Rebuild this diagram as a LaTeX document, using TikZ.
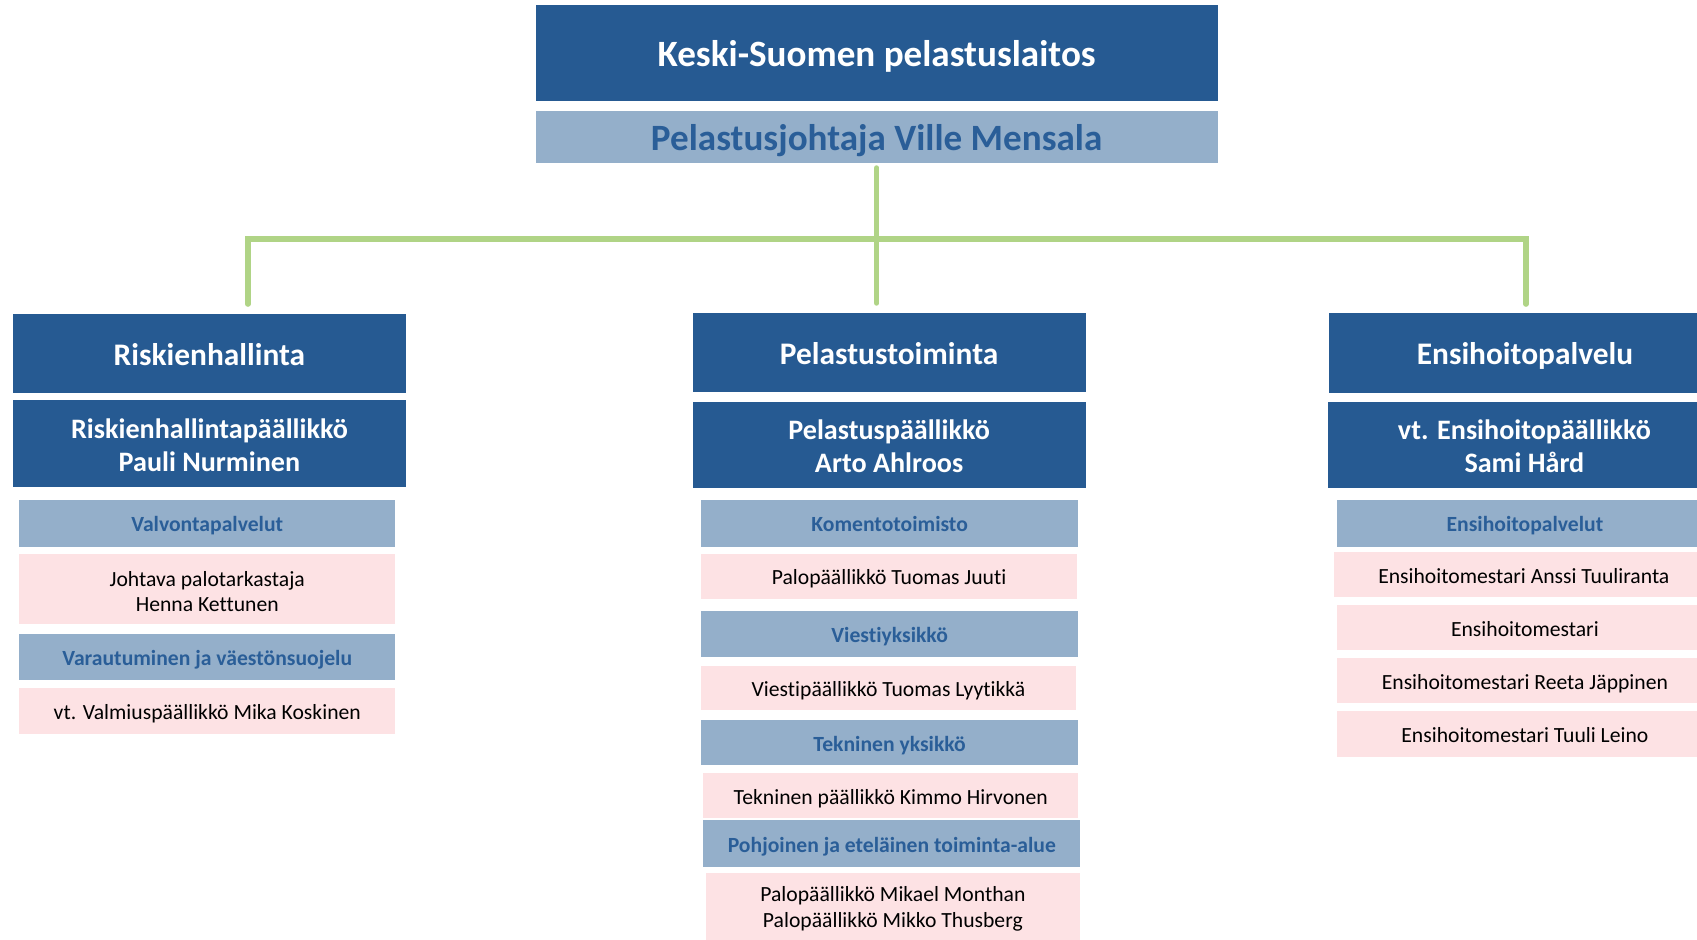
\documentclass[tikz,border=0pt]{standalone}
\usepackage{fontspec}
\setmainfont{Carlito}[Ligatures=NoCommon]
\usetikzlibrary{calc}

\definecolor{orgblue}{RGB}{38,90,146}
\definecolor{unitblue}{RGB}{148,175,202}
\definecolor{unittext}{RGB}{42,94,152}
\definecolor{personpink}{RGB}{253,226,228}
\definecolor{linkgreen}{RGB}{176,212,134}

% extra room above the first line of a two-line box
\newcommand\padtop[1]{\rule{0pt}{#1}}

\tikzset{
  box/.style={rectangle, inner sep=0pt},
  oneline/.style={text height=#1, text depth=0pt},
  twoline/.style={align=center},
  topbox/.style={box, oneline=25pt, fill=orgblue, text=white, minimum width=630pt,
    font=\fontsize{34.3}{40}\selectfont\bfseries},
  dirbox/.style={box, oneline=24pt, fill=unitblue, text=unittext, minimum width=630pt,
    font=\fontsize{34.3}{40}\selectfont\bfseries},
  headbox/.style={box, oneline=22pt, fill=orgblue, text=white, minimum width=363pt,
    minimum height=73pt, font=\fontsize{29}{34}\selectfont\bfseries},
  chiefbox/.style={box, twoline, fill=orgblue, text=white, minimum width=363pt,
    minimum height=80pt, font=\fontsize{26}{31}\selectfont\bfseries},
  unitbox/.style={box, oneline=16pt, fill=unitblue, text=unittext, minimum width=347pt,
    minimum height=43pt, font=\fontsize{20}{23}\selectfont\bfseries},
  personbox/.style={box, oneline=16pt, fill=personpink, text=black, minimum width=347pt,
    minimum height=42pt, font=\fontsize{20}{23}\selectfont},
  pairbox/.style={box, twoline, fill=personpink, text=black, minimum width=347pt,
    font=\fontsize{20}{23}\selectfont},
  conn/.style={linkgreen, line width=5pt, line cap=round}
}

\begin{document}
\begin{tikzpicture}[x=1pt, y=-1pt]
    \useasboundingbox (0,0) rectangle (1568,868);

    % Top
    \node[topbox, minimum height=88pt] (org) at (810,49) {Keski-Suomen pelastuslaitos};
    \node[dirbox, minimum height=48pt] (dir) at (810,127) {Pelastusjohtaja Ville Mensala};

    % Connectors
    \coordinate (hub) at (810,221);
    \coordinate (jL) at (229,281);
    \coordinate (jM) at (810,280);
    \coordinate (jR) at (1410,281);
    \draw[conn, shorten <=4pt] (dir.south) -- (jM);
    \draw[conn] (jL) |- (hub) -| (jR);

    % Riskienhallinta
    \node[headbox] (riskHead) at (193.5,326.5) {Riskienhallinta};
    \node[chiefbox] (riskChief) at (193.5,410) {\padtop{21pt}Riskienhallintapäällikkö\\Pauli Nurminen};
    \node[unitbox] (valvUnit) at (191.5,483.5) {Valvontapalvelut};
    \node[pairbox, minimum height=65pt] (valvPerson) at (191.5,544.5) {\padtop{18pt}Johtava palotarkastaja\\Henna Kettunen};
    \node[unitbox, minimum height=42pt] (varUnit) at (191.5,607) {Varautuminen ja väestönsuojelu};
    \node[personbox] (varPerson) at (191.5,657) {vt. Valmiuspäällikkö Mika Koskinen};

    % Pelastustoiminta
    \node[headbox] (pelHead) at (821.5,325.5) {Pelastustoiminta};
    \node[chiefbox] (pelChief) at (821.5,411) {\padtop{20.5pt}Pelastuspäällikkö\\Arto Ahlroos};
    \node[unitbox, minimum width=348pt] (komUnit) at (822,483.5) {Komentotoimisto};
    \node[personbox, minimum height=41pt] (komPerson) at (821.5,532.5) {Palopäällikkö Tuomas Juuti};
    \node[unitbox, minimum width=348pt, minimum height=42pt] (viesUnit) at (822,586) {Viestiyksikkö};
    \node[personbox, minimum width=346pt, minimum height=41pt] (viesPerson) at (821,635.5) {Viestipäällikkö Tuomas Lyytikkä};
    \node[unitbox, minimum width=348pt, minimum height=42pt] (tekUnit) at (822,686) {Tekninen yksikkö};
    \node[personbox, minimum width=346pt] (tekPerson) at (823,735) {Tekninen päällikkö Kimmo Hirvonen};
    \node[unitbox, minimum width=348pt] (pohUnit) at (824,779.5) {Pohjoinen ja eteläinen toiminta-alue};
    \node[pairbox, minimum width=346pt, minimum height=62pt, font=\fontsize{20}{24}\selectfont] (pohPerson) at (825,838) {\padtop{18pt}Palopäällikkö Mikael Monthan\\Palopäällikkö Mikko Thusberg};

    % Ensihoitopalvelu
    \node[headbox, minimum width=362pt, minimum height=74pt] (ensHead) at (1409,326) {Ensihoitopalvelu};
    \node[chiefbox] (ensChief) at (1408.5,411) {\padtop{21pt}vt. Ensihoitopäällikkö\\Sami Hård};
    \node[unitbox, minimum width=348pt] (ensUnit) at (1409,483.5) {Ensihoitopalvelut};
    \node[personbox, minimum width=350pt] (ensPersonA) at (1408,531) {Ensihoitomestari Anssi Tuuliranta};
    \node[personbox, minimum width=348pt] (ensPersonB) at (1409,580) {Ensihoitomestari};
    \node[personbox, minimum width=348pt] (ensPersonC) at (1409,629) {Ensihoitomestari Reeta Jäppinen};
    \node[personbox, minimum width=348pt] (ensPersonD) at (1409,678) {Ensihoitomestari Tuuli Leino};
\end{tikzpicture}
\end{document}
